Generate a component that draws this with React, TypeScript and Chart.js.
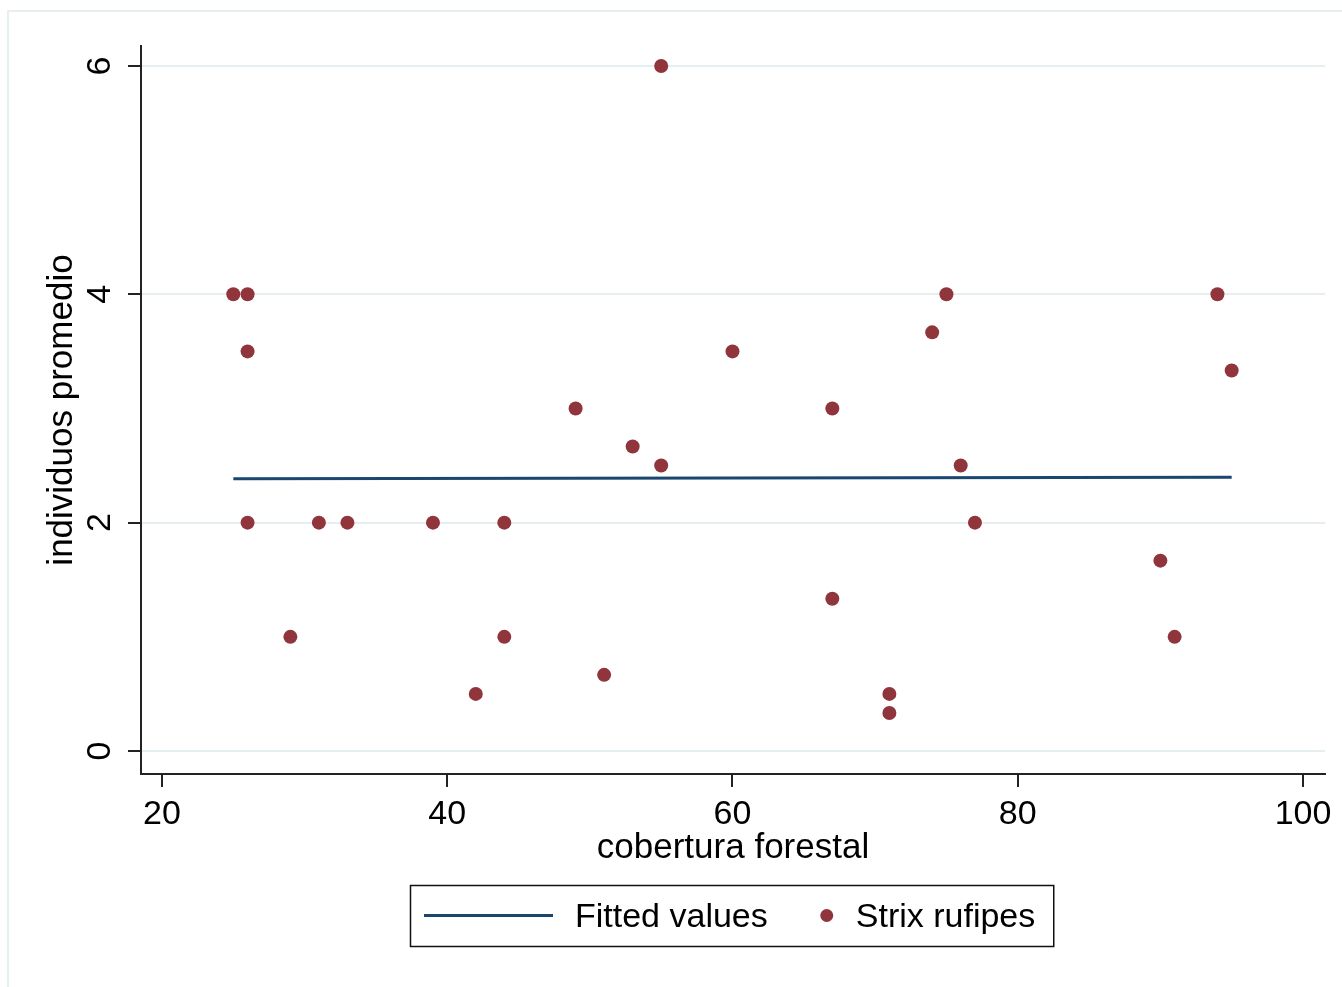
import React, { useEffect, useRef } from "react";
import { Chart, registerables } from "chart.js";

Chart.register(...registerables);

const FONT = '"Liberation Sans", Arial, sans-serif';

// Data
const coverage = [25, 26, 26, 26, 29, 31, 33, 39, 42, 44, 44, 49, 51, 53, 55, 55, 60, 67, 67, 71, 71, 74, 75, 76, 77, 90, 91, 94, 95];
const individuals = [4, 4, 3.5, 2, 1, 2, 2, 2, 0.5, 2, 1, 3, 0.667, 2.667, 6, 2.5, 3.5, 3, 1.333, 0.5, 0.333, 3.667, 4, 2.5, 2, 1.667, 1, 4, 3.333];
const fittedX = [25, 60, 95];
const fittedY = [2.385, 2.391, 2.398];
const xTicks = [20, 40, 60, 80, 100];
const yTicks = [0, 2, 4, 6];
const seriesLabels = ["Fitted values", "Strix rufipes"];
const xTitle = "cobertura forestal";
const yTitle = "individuos promedio";

const LINE_COLOR = "#1a476f";
const POINT_COLOR = "#90353b";
const AXIS_COLOR = "#222222";
const GRID_COLOR = "#e7eef1";

const framePlugin = {
  id: "frame",
  beforeDraw(chart: any) {
    const ctx = chart.ctx;
    ctx.save();
    ctx.fillStyle = "#ffffff";
    ctx.fillRect(0, 0, chart.width, chart.height);
    ctx.strokeStyle = "#e8eff1";
    ctx.lineWidth = 2;
    ctx.strokeRect(8, 11, chart.width + 50, chart.height + 50);
    ctx.restore();
  },
};

const legendPlugin = {
  id: "stataLegend",
  afterDraw(chart: any) {
    const ctx = chart.ctx;
    const ca = chart.chartArea;
    const labels = chart.data.datasets.map((d: any) => d.label);
    ctx.save();
    ctx.font = `34px ${FONT}`;
    const w1 = ctx.measureText(labels[0]).width;
    const w2 = ctx.measureText(labels[1]).width;
    const total = 14 + 129 + 22 + w1 + 59 + 29 + w2 + 18;
    const left = Math.round((ca.left + ca.right) / 2 - total / 2) - 1;
    const top = ca.bottom + 111;
    const h = 61;
    ctx.strokeStyle = "#111";
    ctx.lineWidth = 1.5;
    ctx.strokeRect(left + 0.5, top + 0.5, total, h);
    const cy = top + 30.5;
    ctx.strokeStyle = LINE_COLOR;
    ctx.lineWidth = 3;
    ctx.beginPath();
    ctx.moveTo(left + 14, cy);
    ctx.lineTo(left + 143, cy);
    ctx.stroke();
    ctx.fillStyle = "#000";
    ctx.textBaseline = "middle";
    ctx.textAlign = "left";
    ctx.fillText(labels[0], left + 165, cy + 2);
    const dx = left + 165 + w1 + 59;
    ctx.fillStyle = POINT_COLOR;
    ctx.beginPath();
    ctx.arc(dx, cy, 6.5, 0, Math.PI * 2);
    ctx.fill();
    ctx.fillStyle = "#000";
    ctx.fillText(labels[1], dx + 29, cy + 2);
    ctx.restore();
  },
};

export default function App() {
  const ref = useRef<HTMLCanvasElement | null>(null);

  useEffect(() => {
    if (!ref.current) return;
    const chart = new Chart(ref.current, {
      type: "scatter",
      data: {
        datasets: [
          {
            label: seriesLabels[0],
            data: fittedX.map((x, i) => ({ x, y: fittedY[i] })),
            showLine: true,
            borderColor: LINE_COLOR,
            backgroundColor: LINE_COLOR,
            borderWidth: 3,
            pointRadius: 0,
            pointHoverRadius: 0,
            tension: 0,
          },
          {
            label: seriesLabels[1],
            data: coverage.map((x, i) => ({ x, y: individuals[i] })),
            showLine: false,
            backgroundColor: POINT_COLOR,
            borderColor: POINT_COLOR,
            borderWidth: 0,
            pointRadius: 7,
            pointHoverRadius: 7,
          },
        ],
      },
      options: {
        responsive: false,
        animation: false,
        devicePixelRatio: 1,
        layout: { padding: { left: 0, right: 17, top: 46, bottom: 113 } },
        plugins: {
          legend: { display: false },
          tooltip: { enabled: false },
        },
        scales: {
          x: {
            type: "linear",
            min: 18.528,
            max: 101.543,
            afterBuildTicks: (s: any) => {
              s.ticks = xTicks.map((v) => ({ value: v }));
            },
            afterFit: (s: any) => {
              s.height = 100;
            },
            grid: {
              display: true,
              drawOnChartArea: false,
              drawTicks: true,
              tickLength: 13,
              tickColor: AXIS_COLOR,
              tickWidth: 2,
              lineWidth: 2,
              color: AXIS_COLOR,
            },
            border: { display: true, color: AXIS_COLOR, width: 2 },
            ticks: {
              autoSkip: false,
              maxRotation: 0,
              minRotation: 0,
              padding: 7,
              color: "#000",
              font: { family: FONT, size: 34 },
            },
            title: {
              display: true,
              text: xTitle,
              color: "#000",
              font: { family: FONT, size: 35 },
              padding: { top: 0, bottom: 4.5 },
            },
          },
          y: {
            type: "linear",
            min: -0.2015,
            max: 6.175,
            afterBuildTicks: (s: any) => {
              s.ticks = yTicks.map((v) => ({ value: v }));
            },
            afterFit: (s: any) => {
              s.width = 141;
            },
            grid: {
              display: true,
              drawOnChartArea: true,
              drawTicks: true,
              tickLength: 13,
              tickColor: AXIS_COLOR,
              tickWidth: 2,
              lineWidth: 2,
              color: GRID_COLOR,
            },
            border: { display: true, color: AXIS_COLOR, width: 2 },
            ticks: {
              autoSkip: false,
              minRotation: 90,
              maxRotation: 90,
              crossAlign: "center",
              padding: 17.5,
              color: "#000",
              font: { family: FONT, size: 34 },
            },
            title: {
              display: true,
              text: yTitle,
              color: "#000",
              font: { family: FONT, size: 35 },
              padding: { top: 41, bottom: 0 },
            },
          },
        },
      },
      plugins: [framePlugin, legendPlugin],
    } as any);
    return () => chart.destroy();
  }, []);

  return (
    <canvas
      ref={ref}
      width={1342}
      height={987}
      style={{ position: "absolute", left: 0, top: 0, width: 1342, height: 987 }}
    />
  );
}
